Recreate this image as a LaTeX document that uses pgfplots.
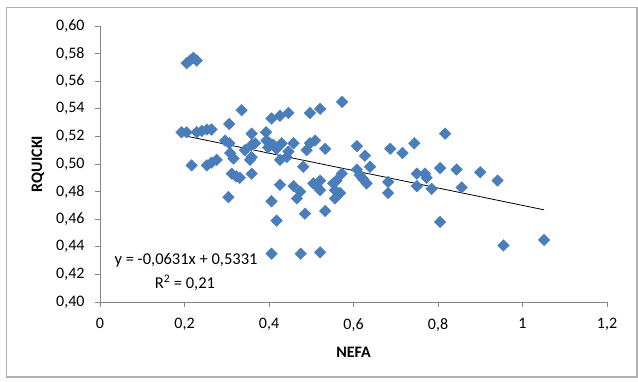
\documentclass[border=0pt]{standalone}
\usepackage{pgfplots}
\pgfplotsset{compat=1.18}
\usepackage{fontspec}
\setmainfont{Carlito}
\definecolor{pt}{HTML}{4A7EBB}
\definecolor{axgray}{HTML}{868686}
\definecolor{frame}{HTML}{B2B2B2}
\pgfplotstableread{
x y
0.193 0.523
0.205 0.523
0.229 0.523
0.241 0.524
0.253 0.525
0.264 0.525
0.205 0.573
0.213 0.575
0.221 0.577
0.229 0.575
0.217 0.499
0.253 0.499
0.264 0.501
0.276 0.503
0.296 0.517
0.306 0.515
0.306 0.529
0.308 0.508
0.316 0.504
0.312 0.493
0.323 0.491
0.331 0.490
0.304 0.476
0.335 0.539
0.343 0.510
0.359 0.522
0.393 0.523
0.359 0.514
0.367 0.515
0.355 0.503
0.359 0.505
0.359 0.493
0.394 0.517
0.402 0.515
0.410 0.514
0.398 0.512
0.418 0.511
0.430 0.515
0.406 0.533
0.426 0.535
0.446 0.537
0.426 0.503
0.442 0.505
0.458 0.515
0.446 0.509
0.426 0.485
0.458 0.484
0.474 0.480
0.466 0.475
0.406 0.473
0.418 0.459
0.406 0.435
0.481 0.498
0.485 0.464
0.475 0.435
0.521 0.436
0.489 0.510
0.497 0.515
0.509 0.517
0.497 0.537
0.521 0.540
0.505 0.486
0.513 0.484
0.521 0.488
0.521 0.481
0.533 0.511
0.533 0.466
0.552 0.486
0.560 0.488
0.556 0.481
0.568 0.479
0.556 0.475
0.572 0.493
0.573 0.545
0.608 0.513
0.627 0.506
0.608 0.496
0.615 0.492
0.623 0.489
0.631 0.486
0.639 0.498
0.682 0.487
0.682 0.479
0.687 0.511
0.716 0.508
0.744 0.515
0.750 0.493
0.769 0.493
0.773 0.490
0.750 0.484
0.785 0.482
0.805 0.497
0.805 0.458
0.817 0.522
0.844 0.496
0.856 0.483
0.900 0.494
0.941 0.488
0.955 0.441
1.051 0.445
}\datatable
\begin{document}
\begin{tikzpicture}
\path[use as bounding box] (-100pt,-79pt) rectangle (538pt,302pt);
\draw[frame, line width=1.5pt] (-93.5pt,-75pt) rectangle (537pt,294.5pt);
\begin{axis}[
  at={(0pt,0pt)}, anchor=south west,
  scale only axis, width=507pt, height=276pt,
  xmin=0, xmax=1.2, ymin=0.40, ymax=0.60,
  axis lines=left,
  x axis line style={-}, y axis line style={-},
  axis line style={draw=axgray, line width=0.8pt},
  tick style={draw=axgray, line width=0.8pt},
  tick align=outside, major tick length=5pt,
  xtick={0,0.2,0.4,0.6,0.8,1,1.2},
  xticklabels={0,{0,2},{0,4},{0,6},{0,8},1,{1,2}},
  ytick={0.40,0.42,0.44,0.46,0.48,0.50,0.52,0.54,0.56,0.58,0.60},
  yticklabels={{0,40},{0,42},{0,44},{0,46},{0,48},{0,50},{0,52},{0,54},{0,56},{0,58},{0,60}},
  ticklabel style={font=\fontsize{16}{19}\selectfont},
  yticklabel style={xshift=-7pt},
  xticklabel style={yshift=-8pt},
  xlabel={NEFA}, ylabel={RQUICKI},
  label style={font=\fontsize{16}{19}\selectfont\bfseries},
  xlabel style={at={([yshift=-50pt]axis description cs:0.5,0)}, anchor=center},
  ylabel style={at={([xshift=-62pt]axis description cs:0,0.5)}, anchor=center},
  clip=false,
]
\addplot[only marks, mark=square*, mark size=4.1pt, color=pt,
  mark options={rotate=45, fill=pt, draw=pt}] table[x=x, y=y] {\datatable};
\addplot[black, line width=0.8pt] coordinates {(0.193,0.5209) (1.051,0.4668)};
\node[font=\fontsize{16.5}{19}\selectfont] at (axis cs:0.2036,0.4304) {y = -0,0631x + 0,5331};
\node[font=\fontsize{16.5}{19}\selectfont] at (axis cs:0.201,0.4138) {R\textsuperscript{2} = 0,21};
\end{axis}
\end{tikzpicture}
\end{document}
